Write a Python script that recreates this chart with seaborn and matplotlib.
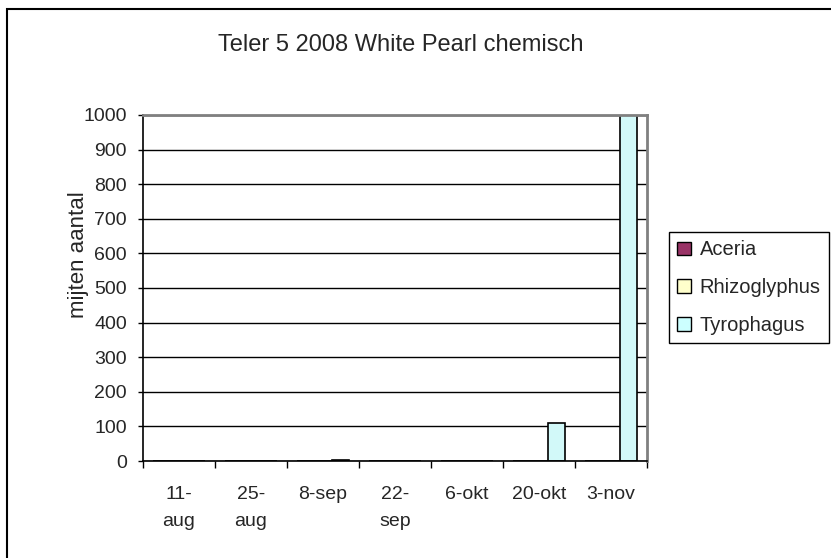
import pandas as pd
import matplotlib.pyplot as plt
import seaborn as sns
from matplotlib.patches import Rectangle, Patch

# data
datums = ["11-\naug", "25-\naug", "8-sep", "22-\nsep", "6-okt", "20-okt", "3-nov"]
soorten = ["Aceria", "Rhizoglyphus", "Tyrophagus"]
aceria = [0, 0, 0, 0, 0, 0, 0]
rhizoglyphus = [0, 0, 0, 0, 0, 0, 0]
tyrophagus = [0, 0, 3, 0, 0, 110, 1200]
kleuren = ["#993366", "#FFFFCC", "#CCFFFF"]

df = pd.DataFrame({"datum": datums * 3,
                   "soort": sum([[s] * len(datums) for s in soorten], []),
                   "aantal": aceria + rhizoglyphus + tyrophagus})

sns.set_style("white")
plt.rcParams["font.family"] = ["Liberation Sans", "DejaVu Sans"]

fig = plt.figure(figsize=(8.31, 5.58), dpi=100)
ax = fig.add_axes([143 / 831, 1 - 461 / 558, (647 - 143) / 831, (461 - 115) / 558])

sns.barplot(data=df, x="datum", y="aantal", hue="soort", palette=kleuren,
            width=0.71, edgecolor="black", linewidth=1.2, ax=ax)

ax.set_ylim(0, 1000)
ax.set_xlim(-0.5, len(datums) - 0.5)
ax.set_yticks(range(0, 1001, 100))
ax.grid(axis="y", color="black", linewidth=1)
ax.set_axisbelow(True)
ax.set_xlabel("")
ax.set_ylabel("mijten aantal", fontsize=16)
ax.yaxis.set_label_coords(-(143 - 89) / 504, (461 - 255) / 346)
ax.tick_params(axis="y", labelsize=14, length=3.6, width=1, color="black", left=True, pad=8)
ax.tick_params(axis="x", which="major", labelsize=14, length=0, pad=18)
for t in ax.get_xticklabels():
    t.set_linespacing(1.75)
ax.set_xticks([i + 0.5 for i in range(-1, len(datums))], minor=True)
ax.tick_params(axis="x", which="minor", length=5, width=1, color="black", bottom=True)

for side in ["top", "right"]:
    ax.spines[side].set_color("#808080")
    ax.spines[side].set_linewidth(2)
for side in ["left", "bottom"]:
    ax.spines[side].set_color("black")
    ax.spines[side].set_linewidth(1.2)

ax.get_legend().remove()
handles = [Patch(facecolor=k, edgecolor="black", linewidth=1) for k in kleuren]
fig.legend(handles, soorten, loc="upper left", bbox_to_anchor=(669 / 831, 1 - 232 / 558),
           borderaxespad=0, fontsize=14.5, frameon=True, fancybox=False, edgecolor="black",
           handlelength=0.65, handleheight=0.65, handletextpad=0.45, labelspacing=0.93,
           borderpad=0.42, framealpha=1)

fig.text(0.5 * (218 + 583) / 831, 1 - 45 / 558, "Teler 5 2008 White Pearl chemisch",
         ha="center", va="center", fontsize=17)

fig.patches.append(Rectangle((7 / 831, -0.1), 1.2, 1 - 9 / 558 + 0.1, transform=fig.transFigure,
                             fill=False, edgecolor="black", linewidth=1.5))

plt.savefig("out.png", dpi=100)
